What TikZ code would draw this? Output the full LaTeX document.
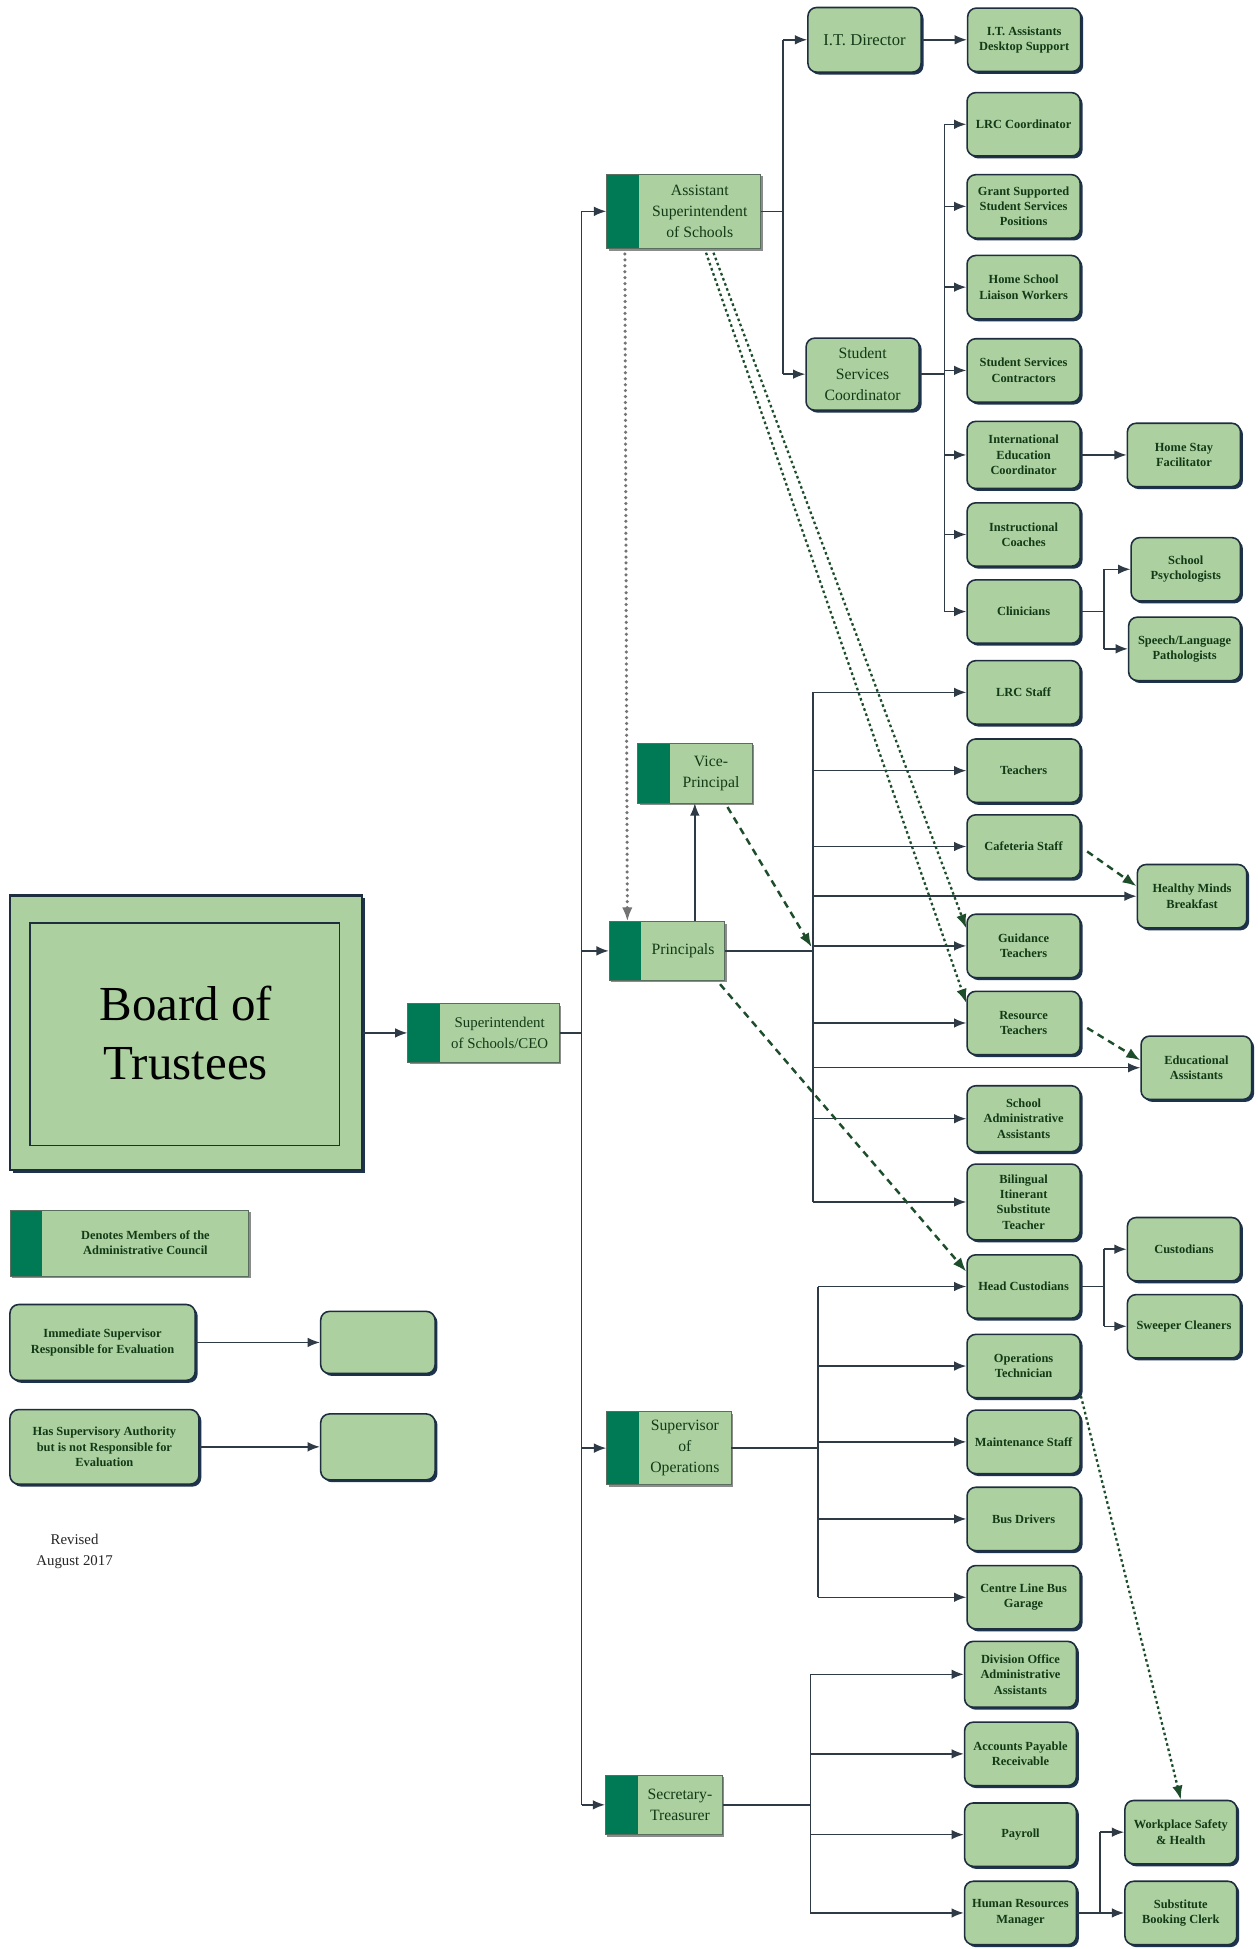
\documentclass[tikz,border=0pt]{standalone}
\usepackage{fontspec}
\setmainfont{Liberation Serif}
\usetikzlibrary{arrows.meta,shadows,calc}
\newlength\ux \setlength\ux{0.025cm}
\definecolor{boxfill}{RGB}{172,208,160}
\definecolor{boxline}{RGB}{30,46,62}
\definecolor{shadowc}{RGB}{28,52,80}
\definecolor{stripc}{RGB}{0,122,84}
\definecolor{linec}{RGB}{46,58,70}
\definecolor{txt}{RGB}{18,58,22}
\definecolor{dgreen}{RGB}{29,77,43}
\definecolor{adminline}{RGB}{90,110,95}
\tikzset{
  rbox/.style={draw=boxline, line width=0.9pt, fill=boxfill, rounded corners=5pt,
    minimum width=91\ux, minimum height=51\ux, align=center, inner sep=1pt, text=txt,
    font=\bfseries\fontsize{7.1}{8.8}\selectfont,
    drop shadow={shadow xshift=1.4pt, shadow yshift=-1.4pt, fill=shadowc, opacity=1}},
  rboxr/.style={rbox, font=\fontsize{9.5}{12}\selectfont},
  abox/.style={rectangle, draw=adminline, line width=0.4pt, fill=boxfill, inner sep=0pt,
    path picture={\fill[stripc] (path picture bounding box.north west) rectangle ([xshift=26\ux]path picture bounding box.south west);},
    drop shadow={shadow xshift=1.2pt, shadow yshift=-1.2pt, fill=black!45, opacity=1}},
  atext/.style={align=center, inner sep=0pt, text=txt, font=\fontsize{9}{12}\selectfont},
  conn/.style={draw=linec, line width=0.85pt},
  carrow/.style={conn, -{Latex[length=7pt,width=5.5pt]}},
  dashlink/.style={draw=dgreen, line width=1.4pt, dash pattern=on 4pt off 3pt, -{Latex[length=8pt,width=6pt]}},
  dotlink/.style={draw=dgreen, line width=1.3pt, dash pattern=on 1.5pt off 1.6pt, -{Latex[length=8pt,width=6pt]}},
  graydots/.style={draw=black!55, line width=2pt, line cap=round, dash pattern=on 0pt off 3.4pt, -{Latex[length=8pt,width=6pt]}},
}
\begin{document}
\begin{tikzpicture}[x=0.025cm, y=-0.025cm]
\fill[white] (0,0) rectangle (1012,1568);
\useasboundingbox (0,0) rectangle (1012,1568);

% ---------- Board and CEO ----------
\node[draw=boxline, line width=1.3pt, fill=boxfill, minimum width=283\ux, minimum height=221\ux,
  align=center, font=\fontsize{28}{34}\selectfont,
  drop shadow={shadow xshift=1.6pt, shadow yshift=-1.6pt, fill=shadowc, opacity=1}] (bot) at (149.5,831) {Board of\\Trustees};
\draw[boxline, line width=0.8pt] ([shift={(17,23)}]bot.north west) rectangle ([shift={(-19,-21)}]bot.south east);

\node[abox, minimum width=122\ux, minimum height=47\ux] (ceo) at (389,831) {};
\node[atext, font=\fontsize{8.5}{11.5}\selectfont] (ceoT) at ($(ceo.center)+(13,0)$) {Superintendent\\of Schools/CEO};

% ---------- Administrative council ----------
\node[abox, minimum width=124\ux, minimum height=60\ux] (asst) at (550,170) {};
\node[atext] (asstT) at ($(asst.center)+(13,0)$) {Assistant\\Superintendent\\of Schools};
\node[abox, minimum width=92\ux, minimum height=48\ux] (vp) at (559,622) {};
\node[atext] (vpT) at ($(vp.center)+(13,0)$) {Vice-\\Principal};
\node[abox, minimum width=93\ux, minimum height=47\ux] (pr) at (536.5,765) {};
\node[atext] (prT) at ($(pr.center)+(13,0)$) {Principals};
\node[abox, minimum width=100\ux, minimum height=59\ux] (so) at (538,1165) {};
\node[atext] (soT) at ($(so.center)+(13,0)$) {Supervisor\\of\\Operations};
\node[abox, minimum width=94\ux, minimum height=48\ux] (sec) at (534,1452) {};
\node[atext] (secT) at ($(sec.center)+(13,0)$) {Secretary-\\Treasurer};

% ---------- Assistant Superintendent branch ----------
\node[rboxr, minimum height=52\ux] (itd) at (695.5,32) {I.T. Director};
\node[rbox] (lta) at (824,32) {I.T. Assistants\\Desktop Support};
\node[rboxr, font=\fontsize{9}{12}\selectfont, minimum height=58\ux] (ssc) at (694,301) {Student\\Services\\Coordinator};
\node[rbox] (lrcc) at (823.5,100) {LRC Coordinator};
\node[rbox] (gss) at (823.5,166) {Grant Supported\\Student Services\\Positions};
\node[rbox] (hsl) at (823.5,231) {Home School\\Liaison Workers};
\node[rbox] (ssco) at (823.5,298) {Student Services\\Contractors};
\node[rbox, minimum height=54\ux] (iec) at (823.5,366) {International\\Education\\Coordinator};
\node[rbox] (hsf) at (952.5,366) {Home Stay\\Facilitator};
\node[rbox] (ic) at (823.5,430) {Instructional\\Coaches};
\node[rbox] (cli) at (823.5,492) {Clinicians};
\node[rbox, minimum width=88\ux] (sp) at (954,458) {School\\Psychologists};
\node[rbox, minimum width=90\ux] (slp) at (953,522) {Speech/Language\\Pathologists};

% ---------- Principals branch ----------
\node[rbox] (lrcs) at (823.5,557) {LRC Staff};
\node[rbox] (tea) at (823.5,620) {Teachers};
\node[rbox] (caf) at (823.5,681) {Cafeteria Staff};
\node[rbox, minimum width=88\ux] (hmb) at (959,721) {Healthy Minds\\Breakfast};
\node[rbox] (gui) at (823.5,761) {Guidance\\Teachers};
\node[rbox] (res) at (823.5,823) {Resource\\Teachers};
\node[rbox, minimum width=89\ux] (ea) at (962.5,859) {Educational\\Assistants};
\node[rbox, minimum height=53\ux] (saa) at (823.5,900) {School\\Administrative\\Assistants};
\node[rbox, minimum height=61\ux] (bis) at (823.5,967) {Bilingual\\Itinerant\\Substitute\\Teacher};

% ---------- Operations branch ----------
\node[rbox] (hc) at (823.5,1035) {Head Custodians};
\node[rbox] (cus) at (952.5,1005) {Custodians};
\node[rbox] (swc) at (952.5,1067) {Sweeper Cleaners};
\node[rbox] (opt) at (823.5,1099) {Operations\\Technician};
\node[rbox] (mts) at (823.5,1160) {Maintenance Staff};
\node[rbox] (bus) at (823.5,1222) {Bus Drivers};
\node[rbox] (clb) at (823.5,1285) {Centre Line Bus\\Garage};

% ---------- Secretary-Treasurer branch ----------
\node[rbox, minimum width=90\ux, minimum height=53\ux] (doa) at (821,1347) {Division Office\\Administrative\\Assistants};
\node[rbox, minimum width=90\ux] (apr) at (821,1411) {Accounts Payable\\Receivable};
\node[rbox, minimum width=90\ux] (pay) at (821,1476) {Payroll};
\node[rbox, minimum width=90\ux] (hrm) at (821,1539) {Human Resources\\Manager};
\node[rbox, minimum width=90\ux] (wsh) at (950,1474) {Workplace Safety\\\& Health};
\node[rbox, minimum width=90\ux] (sbc) at (950,1539) {Substitute\\Booking Clerk};

% ---------- Legend ----------
\node[abox, minimum width=192\ux, minimum height=53\ux] (legA) at (104,1000) {};
\node[atext, font=\bfseries\fontsize{7.1}{8.8}\selectfont] (legAT) at ($(legA.center)+(13,0)$) {Denotes Members of the\\Administrative Council};
\node[rbox, minimum width=149\ux, minimum height=61\ux] (legB) at (82.5,1080) {Immediate Supervisor\\Responsible for Evaluation};
\node[rbox, minimum width=92\ux, minimum height=50\ux] (legBe) at (304,1080) {};
\node[rbox, minimum width=152\ux, minimum height=60\ux] (legC) at (84,1164) {Has Supervisory Authority\\but is not Responsible for\\Evaluation};
\node[rbox, minimum width=92\ux, minimum height=53\ux] (legCe) at (304,1164) {};
\node[align=center, font=\fontsize{8.5}{12}\selectfont, text=black!85] (rev) at (60,1248) {Revised\\August 2017};

% ---------- junction coordinates ----------
\coordinate (jT) at (468,0);
\coordinate (jA) at (630,0);
\coordinate (jS) at (760,0);
\coordinate (jC) at (888,0);
\coordinate (jP) at (654,0);
\coordinate (jO) at (658,0);
\coordinate (jH) at (888,0);
\coordinate (jQ) at (652,0);
\coordinate (jR) at (885,0);

% ---------- solid connectors ----------
\draw[carrow] (bot.east) -- (bot.east -| ceo.west);
\draw[conn] (ceo.east) -- (ceo.east -| jT);
\draw[conn] (jT |- asst.west) -- (jT |- sec.west);
\foreach \n in {asst,pr,so,sec} \draw[carrow] (jT |- \n.west) -- (\n.west);

\draw[conn] (asst.east) -- (asst.east -| jA);
\draw[conn] (jA |- itd.west) -- (jA |- ssc.west);
\draw[carrow] (jA |- itd.west) -- (itd.west);
\draw[carrow] (jA |- ssc.west) -- (ssc.west);
\draw[carrow] (itd.east) -- (lta.west);

\draw[conn] (ssc.east) -- (ssc.east -| jS);
\draw[conn] (jS |- lrcc.west) -- (jS |- cli.west);
\foreach \n in {lrcc,gss,hsl,ssco,iec,ic,cli} \draw[carrow] (jS |- \n.west) -- (\n.west);
\draw[carrow] (iec.east) -- (hsf.west);
\draw[conn] (cli.east) -- (cli.east -| jC);
\draw[conn] (jC |- sp.west) -- (jC |- slp.west);
\draw[carrow] (jC |- sp.west) -- (sp.west);
\draw[carrow] (jC |- slp.west) -- (slp.west);

\draw[carrow] (pr.north -| vp.south) -- (vp.south);
\draw[conn] (pr.east) -- (pr.east -| jP);
\draw[conn] (jP |- lrcs.west) -- (jP |- bis.west);
\foreach \n in {lrcs,tea,caf,hmb,gui,res,ea,saa,bis} \draw[carrow] (jP |- \n.west) -- (\n.west);

\draw[conn] (so.east) -- (so.east -| jO);
\draw[conn] (jO |- hc.west) -- (jO |- clb.west);
\foreach \n in {hc,opt,mts,bus,clb} \draw[carrow] (jO |- \n.west) -- (\n.west);
\draw[conn] (hc.east) -- (hc.east -| jH);
\draw[conn] (jH |- cus.west) -- (jH |- swc.west);
\draw[carrow] (jH |- cus.west) -- (cus.west);
\draw[carrow] (jH |- swc.west) -- (swc.west);

\draw[conn] (sec.east) -- (sec.east -| jQ);
\draw[conn] (jQ |- doa.west) -- (jQ |- hrm.west);
\foreach \n in {doa,apr,pay,hrm} \draw[carrow] (jQ |- \n.west) -- (\n.west);
\draw[conn] (hrm.east) -- (hrm.east -| jR);
\draw[conn] (jR |- wsh.west) -- (jR |- sbc.west);
\draw[carrow] (jR |- wsh.west) -- (wsh.west);
\draw[carrow] (jR |- sbc.west) -- (sbc.west);

\draw[carrow] (legB.east) -- (legBe.west);
\draw[carrow] (legC.east) -- (legCe.west);

% ---------- dashed / dotted connectors ----------
\draw[graydots] ($(asst.south west)+(15,4)$) -- ($(pr.north west)+(15,0)$);
\draw[dotlink] ($(asst.south)+(24,3)$) -- ($(gui.north west)+(0,12)$);
\draw[dotlink] ($(asst.south)+(18,3)$) -- ($(res.north west)+(0,10)$);
\draw[dashlink] ($(vp.south east)+(-20,3)$) -- ($(jP |- pr.east)+(-1,-3)$);
\draw[dashlink] ($(pr.south east)+(-4,3)$) -- ($(hc.west)+(0,-12)$);
\draw[dashlink] ($(caf.east)+(5,4)$) -- ($(hmb.west)+(0,-8)$);
\draw[dashlink] ($(res.east)+(5,4)$) -- ($(ea.west)+(0,-6)$);
\draw[dotlink] ($(opt.south east)+(0,-2)$) -- (wsh.north);
\end{tikzpicture}
\end{document}
